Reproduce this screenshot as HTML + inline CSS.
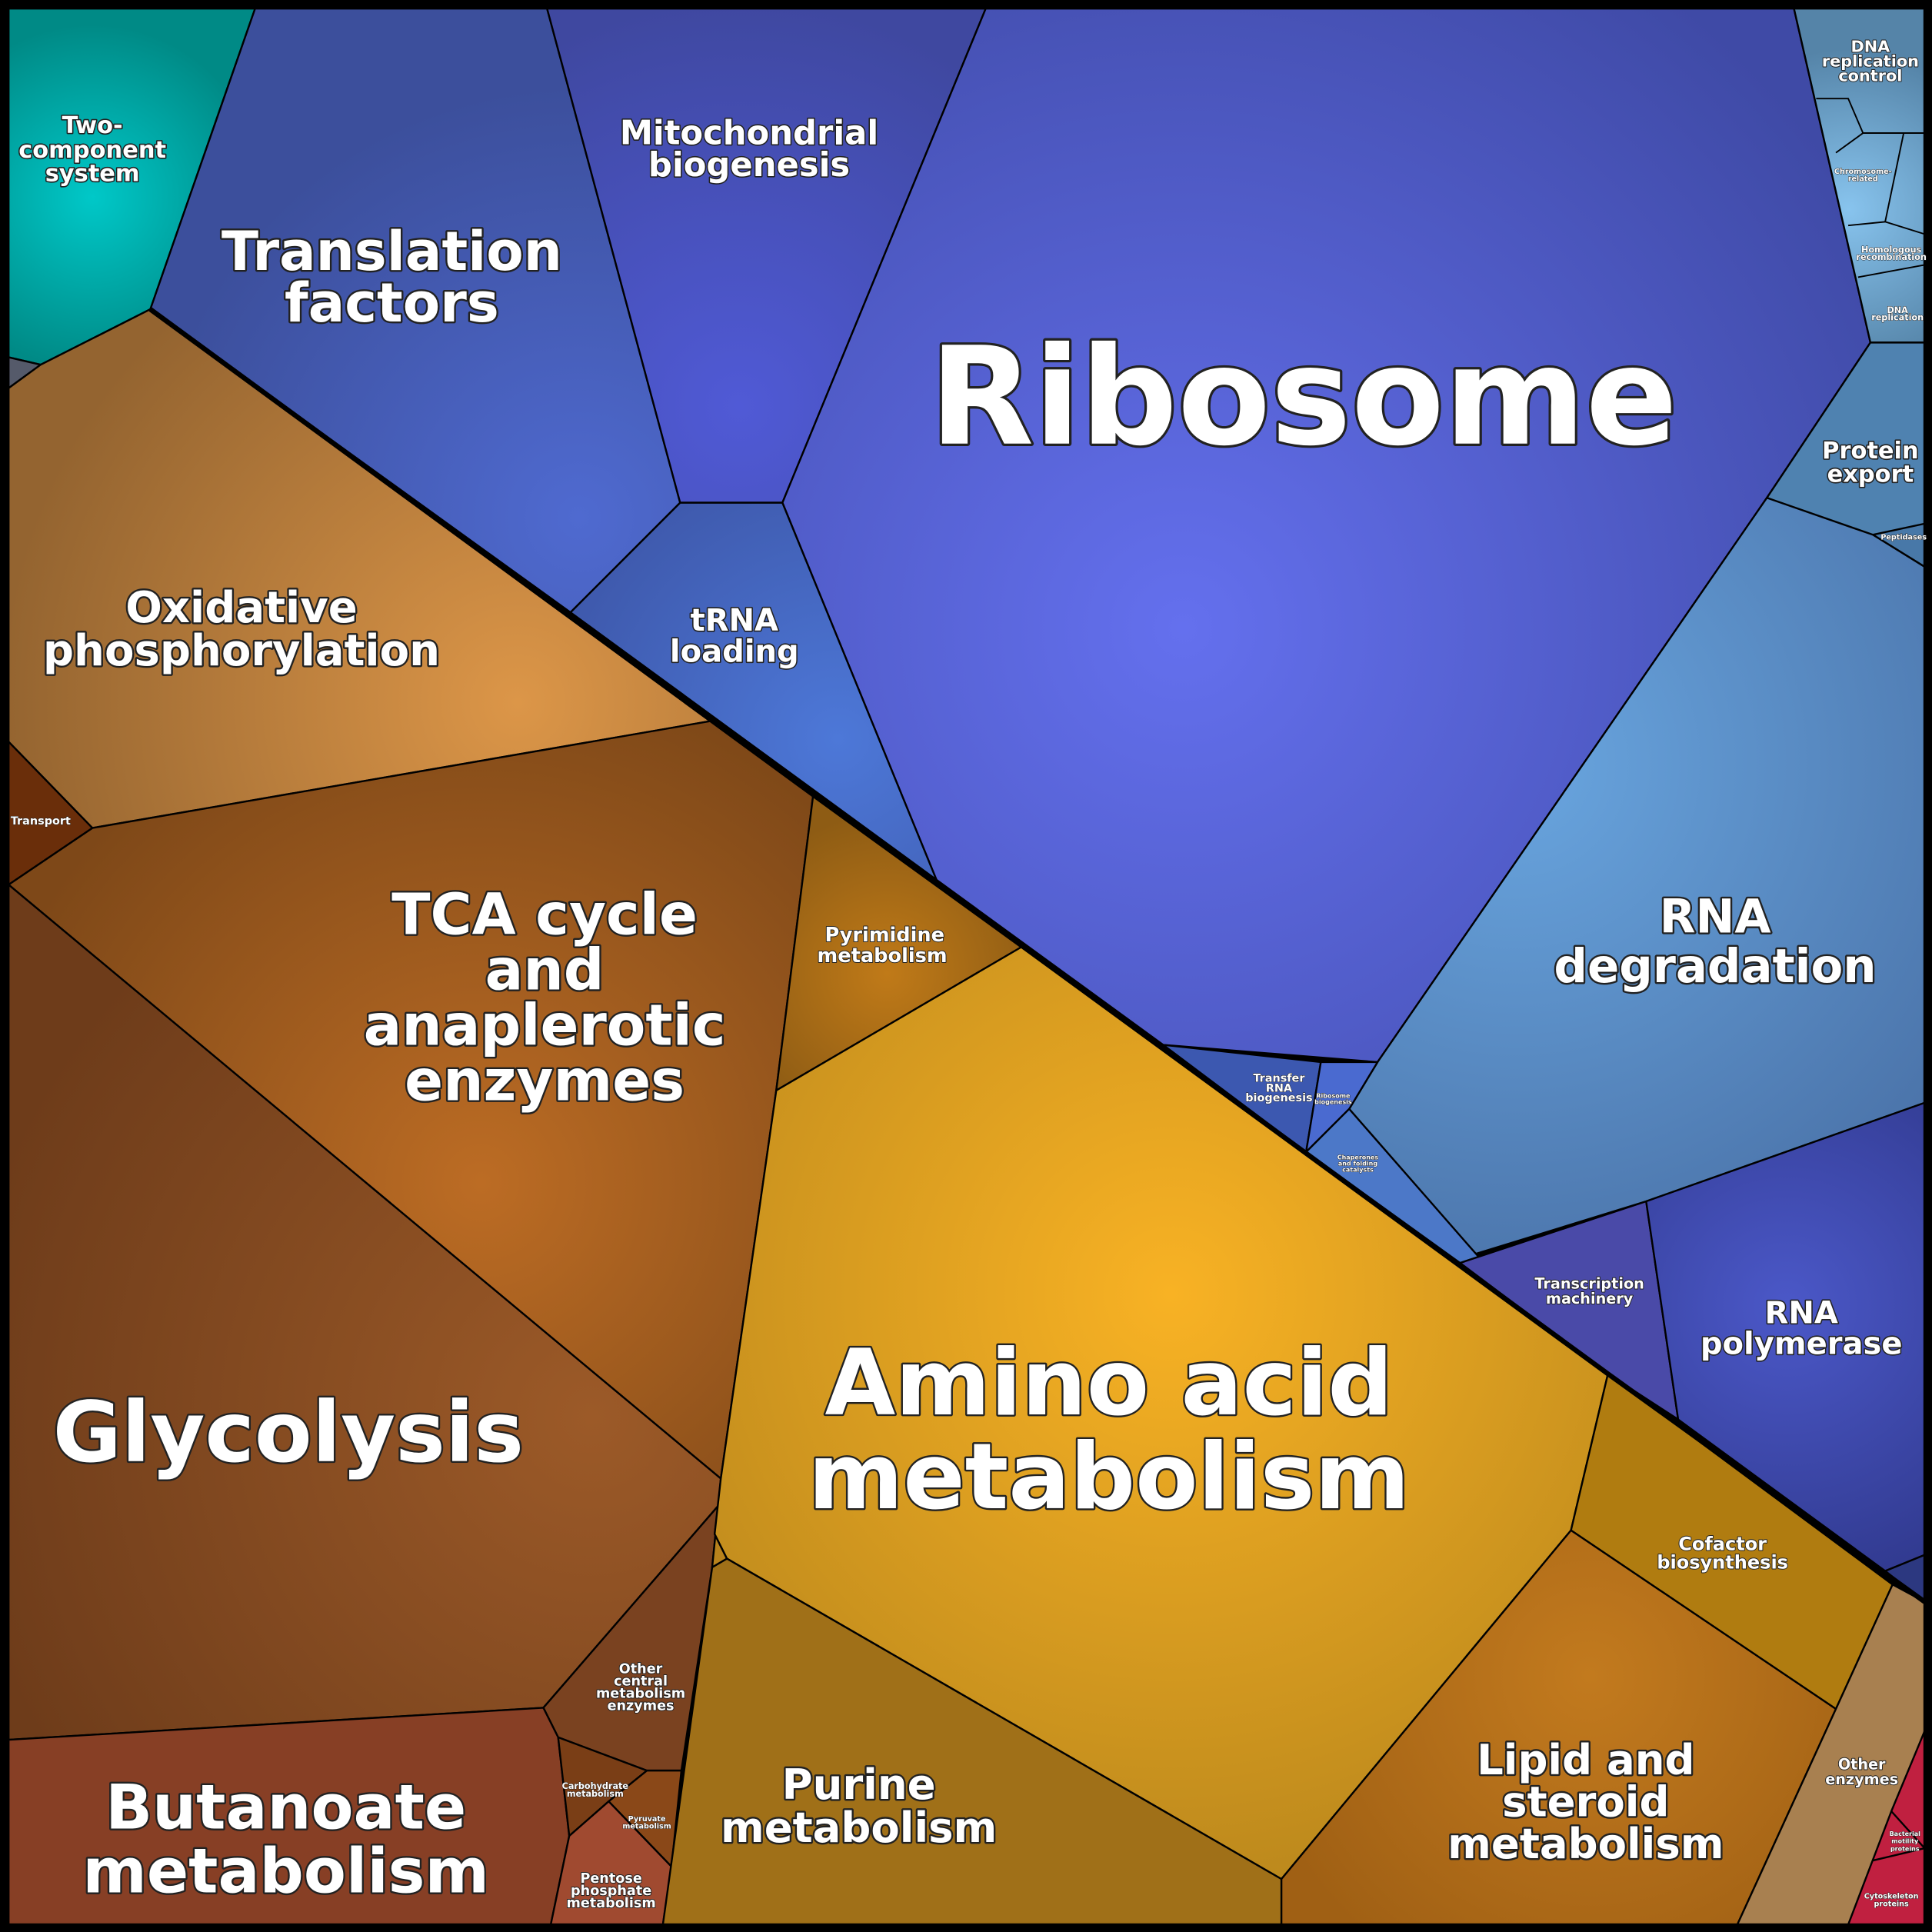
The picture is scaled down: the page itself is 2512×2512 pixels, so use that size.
<!DOCTYPE html>
<html><head><meta charset="utf-8"><style>
html,body{margin:0;padding:0;background:#000}
svg{display:block}
text{font-family:"DejaVu Sans","Liberation Sans",sans-serif;font-weight:bold;fill:#fff;text-anchor:middle;paint-order:stroke;stroke:#222;stroke-linejoin:round}
</style></head><body>
<svg xmlns="http://www.w3.org/2000/svg" width="2512" height="2512" viewBox="0 0 1568 1568">
<defs>
<radialGradient id="gTeal" cx="75" cy="160" r="140" gradientUnits="userSpaceOnUse"><stop offset="0" stop-color="#00c8c8"/><stop offset="1" stop-color="#008a86"/></radialGradient>
<radialGradient id="gTrans" cx="470" cy="420" r="350" gradientUnits="userSpaceOnUse"><stop offset="0" stop-color="#4f6ad0"/><stop offset="1" stop-color="#3c4f9c"/></radialGradient>
<radialGradient id="gMito" cx="600" cy="330" r="330" gradientUnits="userSpaceOnUse"><stop offset="0" stop-color="#505ad6"/><stop offset="1" stop-color="#3f48a0"/></radialGradient>
<radialGradient id="gRib" cx="960" cy="510" r="650" gradientUnits="userSpaceOnUse"><stop offset="0" stop-color="#6470ee"/><stop offset="1" stop-color="#3f4aa6"/></radialGradient>
<radialGradient id="gTrna" cx="680" cy="600" r="260" gradientUnits="userSpaceOnUse"><stop offset="0" stop-color="#4d78d8"/><stop offset="1" stop-color="#3d56a8"/></radialGradient>
<radialGradient id="gRnaDeg" cx="1230" cy="620" r="450" gradientUnits="userSpaceOnUse"><stop offset="0" stop-color="#69a6e0"/><stop offset="1" stop-color="#4a72a8"/></radialGradient>
<radialGradient id="gDna" cx="1500" cy="170" r="130" gradientUnits="userSpaceOnUse"><stop offset="0" stop-color="#88c4ee"/><stop offset="1" stop-color="#5584a8"/></radialGradient>
<radialGradient id="gOx" cx="420" cy="570" r="420" gradientUnits="userSpaceOnUse"><stop offset="0" stop-color="#dc9648"/><stop offset="1" stop-color="#946430"/></radialGradient>
<radialGradient id="gTca" cx="390" cy="960" r="420" gradientUnits="userSpaceOnUse"><stop offset="0" stop-color="#bc6c24"/><stop offset="1" stop-color="#7e4818"/></radialGradient>
<radialGradient id="gGly" cx="480" cy="1150" r="520" gradientUnits="userSpaceOnUse"><stop offset="0" stop-color="#9c5a28"/><stop offset="1" stop-color="#6e3c1a"/></radialGradient>
<radialGradient id="gAmino" cx="950" cy="1050" r="520" gradientUnits="userSpaceOnUse"><stop offset="0" stop-color="#f8b224"/><stop offset="1" stop-color="#b8861c"/></radialGradient>
<radialGradient id="gPyr" cx="720" cy="790" r="130" gradientUnits="userSpaceOnUse"><stop offset="0" stop-color="#c07a18"/><stop offset="1" stop-color="#8e5c14"/></radialGradient>
<radialGradient id="gLip" cx="1290" cy="1360" r="280" gradientUnits="userSpaceOnUse"><stop offset="0" stop-color="#c27a1e"/><stop offset="1" stop-color="#a06014"/></radialGradient>
<radialGradient id="gRnaPol" cx="1450" cy="1060" r="280" gradientUnits="userSpaceOnUse"><stop offset="0" stop-color="#4b58c8"/><stop offset="1" stop-color="#2c3484"/></radialGradient>
</defs>
<rect width="1568" height="1568" fill="#000"/>
<g stroke="#000" stroke-width="1.5" stroke-linejoin="round">
<polygon fill="url(#gTeal)" points="7,7 207,7 122,251 33,296 7,290"/>
<polygon fill="#555a6a" points="7,290 33,296 7,315"/>
<polygon fill="url(#gTrans)" points="207,7 444,7 552,408 463,497 122,251"/>
<polygon fill="url(#gMito)" points="444,7 800,7 635,408 552,408"/>
<polygon fill="url(#gRib)" points="800,7 1456,7 1518,278 1434,404 1118,862 944,848 760,714 635,408"/>
<polygon fill="url(#gTrna)" points="552,408 635,408 760,714 463,497"/>
<polygon fill="url(#gDna)" points="1456,7 1562,7 1562,278 1518,278"/>
<polygon fill="#4f82b0" points="1518,278 1562,278 1562,460 1434,404"/>
<polygon fill="#4878a8" points="1520,434 1562,425 1562,460"/>
<polygon fill="url(#gRnaDeg)" points="1434,404 1520,434 1562,460 1562,895 1336,975 1190,1020 1095,900 1118,862"/>
<polygon fill="#3c58b0" points="944,848 1072,862 1060,935"/>
<polygon fill="#4a6ad0" points="1072,862 1118,862 1095,900 1060,935"/>
<polygon fill="#4c78c8" points="1095,900 1200,1020 1185,1025 1060,935"/>
<polygon fill="#4a4aa8" points="1185,1025 1336,975 1362,1152 1305,1115"/>
<polygon fill="url(#gRnaPol)" points="1336,975 1562,895 1562,1262 1530,1275 1362,1152"/>
<polygon fill="#2c3880" points="1530,1275 1562,1262 1562,1300"/>
<polygon fill="url(#gOx)" points="7,315 33,296 122,251 578,585 75,672 7,602"/>
<polygon fill="#6a2e0a" points="7,602 75,672 7,718"/>
<polygon fill="url(#gTca)" points="7,718 75,672 578,585 660,645 630,885 585,1200"/>
<polygon fill="url(#gGly)" points="7,718 585,1200 583,1222 441,1386 7,1412"/>
<polygon fill="#7a4220" points="583,1222 578,1272 553,1437 525,1437 453,1410 441,1386"/>
<polygon fill="#873f25" points="7,1412 441,1386 453,1410 462,1490 447,1562 7,1562"/>
<polygon fill="#7a3e16" points="453,1410 525,1437 494,1462 462,1490"/>
<polygon fill="#8a4818" points="494,1462 525,1437 553,1437 545,1515"/>
<polygon fill="#a04a30" points="462,1490 494,1462 545,1515 538,1562 447,1562"/>
<polygon fill="url(#gPyr)" points="660,645 830,768 630,885"/>
<polygon fill="#b8821c" points="583,1222 580,1245 590,1265 578,1272"/>
<polygon fill="url(#gAmino)" points="630,885 830,768 1305,1115 1275,1242 1040,1525 590,1265 580,1245 585,1200"/>
<polygon fill="#a07018" points="590,1265 1040,1525 1040,1562 538,1562 578,1272"/>
<polygon fill="#b07c10" points="1305,1115 1536,1286 1490,1387 1275,1242"/>
<polygon fill="url(#gLip)" points="1275,1242 1490,1387 1410,1562 1040,1562 1040,1525"/>
<polygon fill="#a88050" points="1536,1286 1562,1300 1562,1405 1500,1562 1410,1562 1490,1387"/>
<polygon fill="#c02040" points="1562,1405 1562,1562 1500,1562 1535,1470"/>
<polyline fill="none" stroke-width="1.5" points="1535,1470 1562,1500 1520,1510"/>
</g>
<g fill="none" stroke="#000" stroke-width="1.2">
<polyline points="1474,80 1500,80 1512,108 1490,124"/>
<polyline points="1512,108 1562,108"/>
<polyline points="1500,183 1530,180 1562,190"/>
<polyline points="1545,108 1530,180"/>
<polyline points="1508,225 1562,215"/>
</g>
<polyline fill="none" stroke="#000" stroke-width="4" points="122,251 578,585 660,645 830,768 1305,1115 1562,1300"/>
<rect x="3.5" y="3.5" width="1561" height="1561" fill="none" stroke="#000" stroke-width="7"/>

<g stroke-width="3">
<text x="1058" y="360" font-size="110" stroke-width="4">Ribosome</text>
<text x="900" y="1148" font-size="74">Amino acid</text>
<text x="900" y="1224" font-size="74">metabolism</text>
<text x="234" y="1186" font-size="68">Glycolysis</text>
<text x="442" y="758" font-size="46">TCA cycle</text>
<text x="442" y="803" font-size="46">and</text>
<text x="442" y="848" font-size="46">anaplerotic</text>
<text x="442" y="893" font-size="46">enzymes</text>
<text x="318" y="219" font-size="44">Translation</text>
<text x="318" y="261" font-size="44">factors</text>
<text x="232" y="1484" font-size="50">Butanoate</text>
<text x="232" y="1536" font-size="50">metabolism</text>
<text x="1392" y="757" font-size="38">RNA</text>
<text x="1392" y="797" font-size="38">degradation</text>
<text x="196" y="505" font-size="35">Oxidative</text>
<text x="196" y="540" font-size="35">phosphorylation</text>
<text x="1287" y="1440" font-size="34">Lipid and</text>
<text x="1287" y="1474" font-size="34">steroid</text>
<text x="1287" y="1508" font-size="34">metabolism</text>
<text x="697" y="1460" font-size="34">Purine</text>
<text x="697" y="1495" font-size="34">metabolism</text>
</g>
<g stroke-width="2">
<text x="608" y="117" font-size="27">Mitochondrial</text>
<text x="608" y="143" font-size="27">biogenesis</text>
<text x="596" y="512" font-size="25">tRNA</text>
<text x="596" y="537" font-size="25">loading</text>
<text x="1462" y="1074" font-size="25">RNA</text>
<text x="1462" y="1099" font-size="25">polymerase</text>
<text x="75" y="108" font-size="19">Two-</text>
<text x="75" y="128" font-size="19">component</text>
<text x="75" y="147" font-size="19">system</text>
<text x="1518" y="372" font-size="19">Protein</text>
<text x="1518" y="391" font-size="19">export</text>
</g>
<g stroke-width="1.2">
<text x="718" y="764" font-size="16">Pyrimidine</text>
<text x="716" y="781" font-size="16">metabolism</text>
<text x="1398" y="1258" font-size="15">Cofactor</text>
<text x="1398" y="1273" font-size="15">biosynthesis</text>
<text x="1518" y="42" font-size="13">DNA</text>
<text x="1518" y="54" font-size="13">replication</text>
<text x="1518" y="66" font-size="13">control</text>
<text x="1290" y="1046" font-size="12">Transcription</text>
<text x="1290" y="1058" font-size="12">machinery</text>
<text x="1511" y="1436" font-size="12">Other</text>
<text x="1511" y="1448" font-size="12">enzymes</text>
<text x="520" y="1358" font-size="11">Other</text>
<text x="520" y="1368" font-size="11">central</text>
<text x="520" y="1378" font-size="11">metabolism</text>
<text x="520" y="1388" font-size="11">enzymes</text>
<text x="496" y="1528" font-size="11">Pentose</text>
<text x="496" y="1538" font-size="11">phosphate</text>
<text x="496" y="1548" font-size="11">metabolism</text>
</g>
<g stroke-width="0.6">
<text x="33" y="669" font-size="9">Transport</text>
<text x="1038" y="878" font-size="9">Transfer</text>
<text x="1038" y="886" font-size="9">RNA</text>
<text x="1038" y="894" font-size="9">biogenesis</text>
<text x="1535" y="205" font-size="7">Homologous</text>
<text x="1535" y="211" font-size="7">recombination</text>
<text x="1540" y="254" font-size="7">DNA</text>
<text x="1540" y="260" font-size="7">replication</text>
<text x="1512" y="141" font-size="6">Chromosome-</text>
<text x="1512" y="147" font-size="6">related</text>
<text x="1545" y="438" font-size="6">Peptidases</text>
<text x="483" y="1452" font-size="7">Carbohydrate</text>
<text x="483" y="1458" font-size="7">metabolism</text>
<text x="525" y="1478" font-size="6">Pyruvate</text>
<text x="525" y="1484" font-size="6">metabolism</text>
<text x="1102" y="941" font-size="5">Chaperones</text>
<text x="1102" y="946" font-size="5">and folding</text>
<text x="1102" y="951" font-size="5">catalysts</text>
<text x="1082" y="891" font-size="5">Ribosome</text>
<text x="1082" y="896" font-size="5">biogenesis</text>
<text x="1546" y="1490" font-size="5">Bacterial</text>
<text x="1546" y="1496" font-size="5">motility</text>
<text x="1546" y="1502" font-size="5">proteins</text>
<text x="1535" y="1541" font-size="6">Cytoskeleton</text>
<text x="1535" y="1547" font-size="6">proteins</text>
</g>
</svg>
</body></html>
